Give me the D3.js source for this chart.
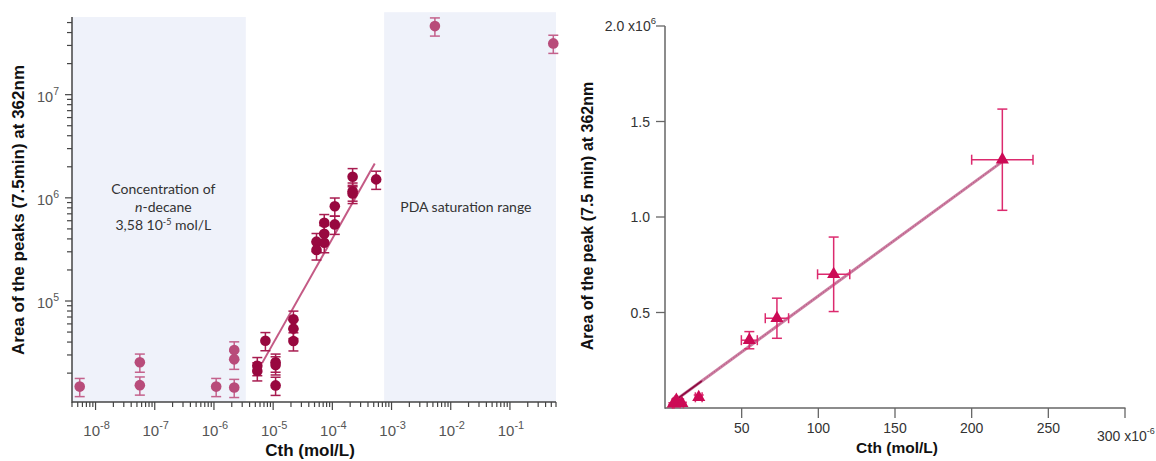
<!DOCTYPE html>
<html><head><meta charset="utf-8">
<script src="https://cdn.jsdelivr.net/npm/d3@7"></script>
<style>body{margin:0;background:#fff}svg{display:block}</style>
</head><body>
<svg id="c" width="1156" height="461"></svg>
<script>
// ---------- LEFT PANEL DATA (log-log) ----------
const blankX = [5.4e-9, 5.6e-8, 5.6e-8, 1.09e-6, 2.2e-6, 2.2e-6, 2.2e-6];
const blankY = [1.48e4, 2.55e4, 1.53e4, 1.48e4, 3.35e4, 2.72e4, 1.45e4];
const linX = [5.4e-6, 5.4e-6, 7.4e-6, 1.1e-5, 1.1e-5, 1.1e-5, 2.2e-5, 2.2e-5, 2.2e-5,
              5.4e-5, 5.4e-5, 7.3e-5, 7.3e-5, 7.3e-5, 1.1e-4, 1.1e-4, 2.2e-4, 2.2e-4, 2.2e-4, 5.5e-4];
const linY = [2.36e4, 2.1e4, 4.12e4, 2.55e4, 2.4e4, 1.52e4, 6.65e4, 5.4e4, 4.1e4,
              3.76e5, 3.12e5, 5.74e5, 4.49e5, 3.67e5, 8.3e5, 5.53e5, 1.6e6, 1.16e6, 1.1e6, 1.51e6];
const satX = [5.4e-3, 0.54];
const satY = [4.62e7, 3.14e7];
const relErr = 0.2;
const fitLX = [6.5e-6, 5.2e-4];
const fitLY = [2.5e4, 2.15e6];
const xDomL = [4e-9, 0.6];
const yDomL = [1.05e4, 5.66e7];
const shadeX0 = [4e-9, 7.5e-4];
const shadeX1 = [3.45e-6, 0.6];
const shadeTop = [5.66e7, 6.3e7];
const noteLeft = ["Concentration of", "n-decane", "3,58 10", "-5", " mol/L"];
const noteRight = "PDA saturation range";
const xLabelL = "Cth (mol/L)";
const yLabelL = "Area of the peaks (7.5min) at 362nm";

// ---------- RIGHT PANEL DATA (linear, x in 1e-6 mol/L, y in 1e6) ----------
const rX = [5.4, 7.4, 11, 22, 55, 73, 110, 220];
const rY = [0.022, 0.041, 0.025, 0.056, 0.355, 0.47, 0.70, 1.30];
const rYerr = [0.005, 0.006, 0.005, 0.012, 0.045, 0.105, 0.195, 0.265];
const rXerr = [0.5, 0.7, 1.0, 2.2, 5.2, 7.6, 10.5, 20];
const rFitX = [5, 220];
const rFitY = [0.03, 1.29];
const rFitDarkX = [5, 24];
const rXTicks = [50, 100, 150, 200, 250, 300];
const rYTicks = [0.5, 1.0, 1.5, 2.0];
const xDomR = [0, 300];
const yDomR = [0, 2.0];
const xLabelR = "Cth (mol/L)";
const yLabelR = "Area of the peak (7.5 min) at 362nm";

const svg = d3.select('#c');
const AR = "Liberation Sans, Arial, Helvetica, sans-serif";
const NOTE = "Lato, Open Sans, sans-serif";

// ================= LEFT PANEL =================
const xL = d3.scaleLog().domain(xDomL).range([72, 556]);
const yL = d3.scaleLog().domain(yDomL).range([402, 17]);

// shaded ranges
shadeX0.forEach((x0, i) => {
  svg.append('rect')
    .attr('x', xL(x0)).attr('y', yL(shadeTop[i]))
    .attr('width', xL(shadeX1[i]) - xL(x0))
    .attr('height', yL(yDomL[0]) - yL(shadeTop[i]))
    .attr('fill', '#eff2fa');
});

// annotations
const nx = xL(1.4e-7);
const nl = svg.append('text').attr('x', nx).attr('y', 194)
  .attr('text-anchor', 'middle').attr('font-family', NOTE)
  .attr('font-size', 14).attr('fill', '#333');
nl.append('tspan').attr('x', nx).attr('dy', 0).text(noteLeft[0]);
const l2 = nl.append('tspan').attr('x', nx).attr('dy', 18);
l2.append('tspan').attr('font-style', 'italic').text(noteLeft[1].slice(0, 1));
l2.append('tspan').text(noteLeft[1].slice(1));
nl.append('tspan').attr('x', nx).attr('dy', 18).text(noteLeft[2]);
nl.append('tspan').attr('font-size', 9).attr('dy', -5).text(noteLeft[3]);
nl.append('tspan').attr('dy', 5).text(noteLeft[4]);

svg.append('text').attr('x', xL(1.8e-2)).attr('y', 212)
  .attr('text-anchor', 'middle').attr('font-family', NOTE)
  .attr('font-size', 14).attr('fill', '#333').text(noteRight);

// axes lines
const axC = '#444';
svg.append('line').attr('x1', 72).attr('x2', 72).attr('y1', yL(yDomL[1])).attr('y2', yL(yDomL[0]) + 0.75)
  .attr('stroke', axC).attr('stroke-width', 1.5);
svg.append('line').attr('x1', 72).attr('x2', xL(xDomL[1])).attr('y1', yL(yDomL[0])).attr('y2', yL(yDomL[0]))
  .attr('stroke', axC).attr('stroke-width', 1.5);

function isMajor(v) { return Math.abs(Math.log10(v) - Math.round(Math.log10(v))) < 1e-6; }
function powLabel(sel, base, exp, fs, sfs) {
  sel.append('tspan').text(base);
  sel.append('tspan').attr('font-size', sfs).attr('dy', -fs * 0.45).text(exp);
}
// x ticks
xL.ticks().filter(v => v >= xDomL[0] && v <= xDomL[1]).forEach(v => {
  const M = isMajor(v);
  const x = xL(v);
  svg.append('line').attr('x1', x).attr('x2', x).attr('y1', 402).attr('y2', 402 + (M ? 8 : 5))
    .attr('stroke', axC).attr('stroke-width', 1.2);
  if (M) {
    const t = svg.append('text').attr('x', x + 1).attr('y', 436).attr('text-anchor', 'middle')
      .attr('font-family', AR).attr('font-size', 15).attr('fill', '#555');
    powLabel(t, '10', String(Math.round(Math.log10(v))), 15, 11);
  }
});
// y ticks
yL.ticks().filter(v => v >= yDomL[0] && v <= yDomL[1]).forEach(v => {
  const M = isMajor(v);
  const y = yL(v);
  svg.append('line').attr('x1', 72).attr('x2', 72 - (M ? 7 : 5)).attr('y1', y).attr('y2', y)
    .attr('stroke', axC).attr('stroke-width', 1.2);
  if (M) {
    const t = svg.append('text').attr('x', 59).attr('y', y + 7).attr('text-anchor', 'end')
      .attr('font-family', AR).attr('font-size', 14.5).attr('fill', '#555');
    powLabel(t, '10', String(Math.round(Math.log10(v))), 14.5, 10.5);
  }
});
svg.append('text').attr('x', xL(4.2e-5)).attr('y', 456).attr('text-anchor', 'middle')
  .attr('font-family', AR).attr('font-weight', 'bold').attr('font-size', 17).attr('fill', '#111').text(xLabelL);
svg.append('text').attr('transform', 'translate(24,210) rotate(-90)').attr('text-anchor', 'middle')
  .attr('font-family', AR).attr('font-weight', 'bold').attr('font-size', 17).attr('fill', '#111').text(yLabelL);

// fit line
svg.append('line').attr('x1', xL(fitLX[0])).attr('y1', yL(fitLY[0]))
  .attr('x2', xL(fitLX[1])).attr('y2', yL(fitLY[1]))
  .attr('stroke', '#c45a85').attr('stroke-width', 2);

function drawLogPts(xs, ys, fill, ecol) {
  const g = svg.append('g');
  xs.forEach((xv, i) => {
    const x = xL(xv), y0 = yL(ys[i] * (1 - relErr)), y1 = yL(ys[i] * (1 + relErr));
    g.append('line').attr('x1', x).attr('x2', x).attr('y1', y0).attr('y2', y1).attr('stroke', ecol).attr('stroke-width', 1.5);
    [y0, y1].forEach(yy => g.append('line').attr('x1', x - 5).attr('x2', x + 5).attr('y1', yy).attr('y2', yy)
      .attr('stroke', ecol).attr('stroke-width', 1.5));
  });
  xs.forEach((xv, i) => {
    g.append('circle').attr('cx', xL(xv)).attr('cy', yL(ys[i])).attr('r', 5.3).attr('fill', fill);
  });
}
drawLogPts(blankX, blankY, '#b84c7a', '#c4628c');
drawLogPts(satX, satY, '#b84c7a', '#c4628c');
drawLogPts(linX, linY, '#98083f', '#a81c50');

// ================= RIGHT PANEL =================
const xR = d3.scaleLinear().domain(xDomR).range([665, 1125]);
const yR = d3.scaleLinear().domain(yDomR).range([408, 26]);
const axR = '#666';
svg.append('line').attr('x1', 665).attr('x2', 665).attr('y1', yR(yDomR[1])).attr('y2', yR(0) + 0.75)
  .attr('stroke', axR).attr('stroke-width', 1.5);
svg.append('line').attr('x1', 665).attr('x2', xR(xDomR[1]) + 0.5).attr('y1', yR(0)).attr('y2', yR(0))
  .attr('stroke', axR).attr('stroke-width', 1.5);
rXTicks.forEach((v, i) => {
  const x = xR(v);
  svg.append('line').attr('x1', x).attr('x2', x).attr('y1', 408).attr('y2', 418).attr('stroke', axR).attr('stroke-width', 1.3);
  const last = i === rXTicks.length - 1;
  const t = svg.append('text').attr('x', last ? x - 28 : x).attr('y', last ? 441 : 433)
    .attr('text-anchor', last ? 'start' : 'middle')
    .attr('font-family', AR).attr('font-size', 14).attr('fill', '#333');
  if (last) { t.append('tspan').text(v + ' x10'); t.append('tspan').attr('font-size', 9).attr('dy', -7).text('-6'); }
  else t.text(v);
});
rYTicks.forEach((v, i) => {
  const y = yR(v);
  svg.append('line').attr('x1', 665).attr('x2', 656).attr('y1', y).attr('y2', y).attr('stroke', axR).attr('stroke-width', 1.3);
  const last = i === rYTicks.length - 1;
  const t = svg.append('text').attr('x', last ? 656 : 650).attr('y', y + 5).attr('text-anchor', 'end')
    .attr('font-family', AR).attr('font-size', 14).attr('fill', '#333');
  if (last) { t.append('tspan').text(v.toFixed(1) + ' x10'); t.append('tspan').attr('font-size', 9.5).attr('dy', -7).text('6'); }
  else t.text(v.toFixed(1));
});
svg.append('text').attr('x', 897).attr('y', 453).attr('text-anchor', 'middle')
  .attr('font-family', AR).attr('font-weight', 'bold').attr('font-size', 15.5).attr('fill', '#111').text(xLabelR);
svg.append('text').attr('transform', 'translate(593,216) rotate(-90)').attr('text-anchor', 'middle')
  .attr('font-family', AR).attr('font-weight', 'bold').attr('font-size', 16).attr('fill', '#111').text(yLabelR);

// fit line (right)
const slope = (rFitY[1] - rFitY[0]) / (rFitX[1] - rFitX[0]);
const fR = x => rFitY[0] + slope * (x - rFitX[0]);
svg.append('line').attr('x1', xR(rFitX[0])).attr('y1', yR(fR(rFitX[0])))
  .attr('x2', xR(rFitX[1])).attr('y2', yR(fR(rFitX[1])))
  .attr('stroke', '#cc7fa2').attr('stroke-width', 3);
svg.append('line').attr('x1', xR(rFitX[0])).attr('y1', yR(fR(rFitX[0])))
  .attr('x2', xR(rFitX[1])).attr('y2', yR(fR(rFitX[1])))
  .attr('stroke', '#b04a78').attr('stroke-width', 0.8).attr('stroke-dasharray', '1.5,1.5');
svg.append('line').attr('x1', xR(rFitDarkX[0])).attr('y1', yR(fR(rFitDarkX[0])))
  .attr('x2', xR(rFitDarkX[1])).attr('y2', yR(fR(rFitDarkX[1])))
  .attr('stroke', '#8e0a40').attr('stroke-width', 1.6);

const eC = '#dc2a6e';
rX.forEach((xv, i) => {
  const x = xR(xv), y = yR(rY[i]);
  const ya = yR(rY[i] - rYerr[i]), yb = yR(rY[i] + rYerr[i]);
  const xa = xR(xv - rXerr[i]), xb = xR(xv + rXerr[i]);
  svg.append('line').attr('x1', x).attr('x2', x).attr('y1', ya).attr('y2', yb).attr('stroke', eC).attr('stroke-width', 1.5);
  [ya, yb].forEach(yy => svg.append('line').attr('x1', x - 5).attr('x2', x + 5).attr('y1', yy).attr('y2', yy).attr('stroke', eC).attr('stroke-width', 1.5));
  svg.append('line').attr('x1', xa).attr('x2', xb).attr('y1', y).attr('y2', y).attr('stroke', eC).attr('stroke-width', 1.5);
  [xa, xb].forEach(xx => svg.append('line').attr('x1', xx).attr('x2', xx).attr('y1', y - 5).attr('y2', y + 5).attr('stroke', eC).attr('stroke-width', 1.5));
});
const tri = d3.symbol().type(d3.symbolTriangle).size(75);
rX.forEach((xv, i) => {
  svg.append('path').attr('d', tri()).attr('transform', `translate(${xR(xv)},${yR(rY[i])})`).attr('fill', '#cc0a55');
});
</script>
</body></html>
